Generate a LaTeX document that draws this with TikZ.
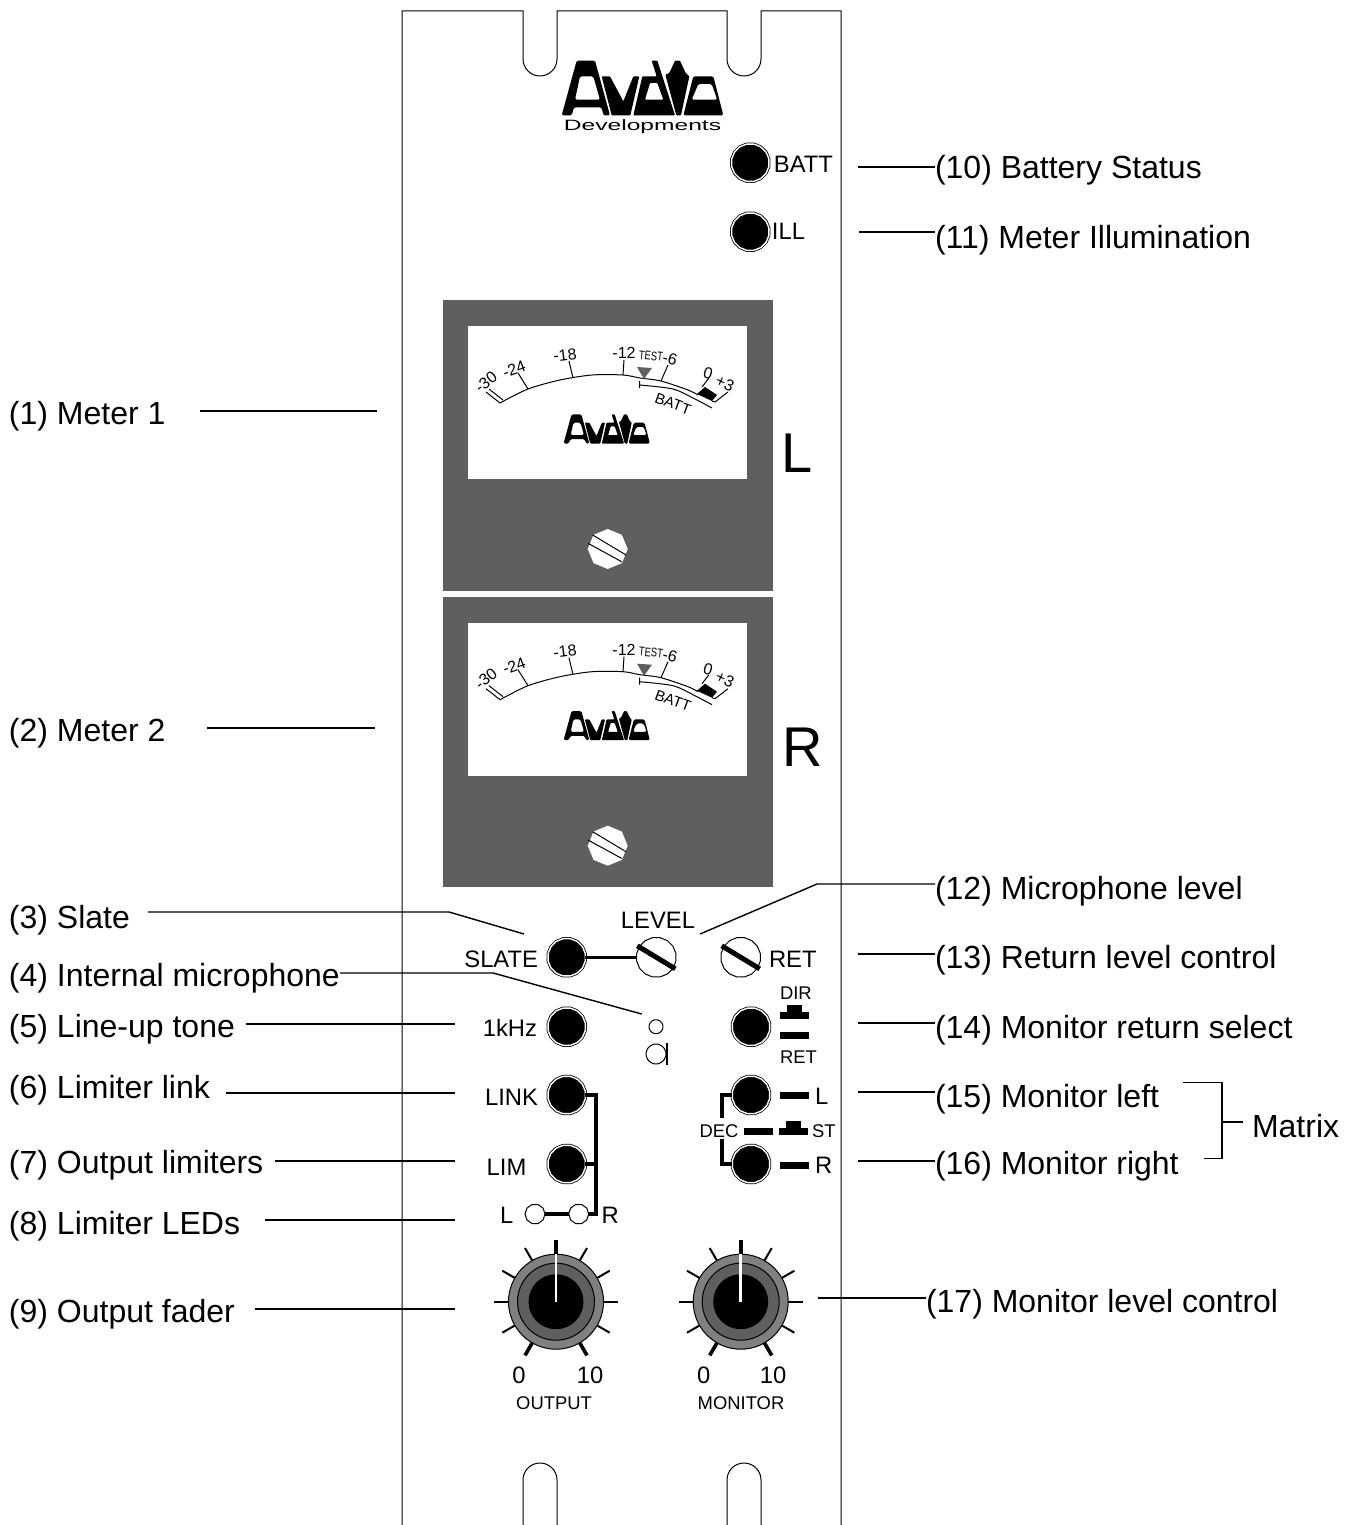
\documentclass[tikz,border=0pt]{standalone}
\usepackage{fontspec}
\setmainfont{Liberation Sans}
\usetikzlibrary{positioning,shapes.geometric}
\definecolor{paneldark}{HTML}{5F5F5F}
\definecolor{knobgrey}{HTML}{808080}
\tikzset{
  logo/.pic={
    \fill[even odd rule, rounded corners=1.5pt] (20,181) -- (65,17) -- (120,17) -- (165,181) -- (145,181) -- (140,157) -- (57,157) -- (50,181) -- cycle
      (75,64) -- (115,64) -- (135,134) -- (60,134) -- cycle;
    \fill[rounded corners=.8pt] (140,64) -- (165,64) -- (205,139) -- (235,64) -- (253,64) -- (226,181) -- (170,181) -- cycle;
    \fill[even odd rule, rounded corners=.8pt] (235,181) -- (262,64) -- (305,64) -- (290,17) -- (307,17) -- (360,181) -- cycle
      (285,84) -- (307,84) -- (325,134) -- (270,134) -- cycle;
    \fill[rounded corners=.8pt] (364,181) -- (378,181) -- (403,64) -- (392,54) -- (375,17) -- (360,17) -- (343,54) -- (331,59) -- cycle;
    \fill[even odd rule, rounded corners=1.5pt] (415,64) -- (475,64) -- (505,181) -- (385,181) -- cycle
      (430,87) -- (470,87) -- (487,134) -- (410,134) -- cycle;
  },
  meter/.pic={
    \fill[paneldark] (443,300) rectangle (773,590.7);
    \fill[white] (468,326) rectangle (747,479);
    \draw[scaleline] plot[smooth] coordinates {(500,403) (528,389) (560,380) (592,375) (623,375) (640,378) (661,381) (688,390) (698,395)};
    \draw[scaleline] (500,403) -- (486,392) (503,400) -- (489,389);
    \draw[scaleline] (528,389) -- (518,373) (573,378) -- (569,361) (623,375) -- (624,360);
    \draw[scaleline] (661,381) -- (668,365) (702,387) -- (709,378);
    \draw[scaleline] (639.7,381) -- (639.7,388) plot[smooth] coordinates {(639.7,385) (673,389) (693,398) (712,408)};
    \draw[scaleline] (715,402) -- (728,392) (712,401) -- (715,402);
    \fill (697,394) -- (705,387) -- (717,395) -- (712,401) -- cycle;
    \fill[paneldark] (637,367) -- (652,368) -- (644,379) -- cycle;
    \node[scaletext, rotate=38] (-a) at (486,382) {-30};
    \node[scaletext, rotate=20] (-b) at (514,369) {-24};
    \node[scaletext, rotate=7] (-c) at (565,355) {-18};
    \node[scaletext] (-d) at (624,353) {-12};
    \node[scaletext, font=\fontsize{12.5}{15}\selectfont, rotate=-5] (-e) at (651,356) {\scalebox{.75}[1]{TEST}};
    \node[scaletext, rotate=-15] (-f) at (670,359) {-6};
    \node[scaletext, rotate=-15] (-g) at (708,373) {0};
    \node[scaletext, rotate=-25] (-h) at (725,383) {+3};
    \node[scaletext, font=\fontsize{15}{18}\selectfont, rotate=-20] (-i) at (673,404) {BATT};
    \pic[scale=.178] at (560,411.3) {logo};
    \node[screw] (-s) at (607.7,549) {};
    \draw[scaleline] (592.7,535) -- (626,555) (588,543.3) -- (621.7,561.7);
  }
}
\begin{document}
\begin{tikzpicture}[x=1pt, y=-1pt,
    every node/.style={inner sep=0pt, outer sep=0pt},
    lab/.style={font=\fontsize{32}{38}\selectfont, text height=23pt, text depth=0pt},
    ctl/.style={font=\fontsize{23.8}{28}\selectfont},
    small/.style={font=\fontsize{18.4}{22}\selectfont},
    big/.style={font=\fontsize{56}{64}\selectfont},
    scaletext/.style={font=\fontsize{16}{19}\selectfont},
    scaleline/.style={line width=1pt},
    leader/.style={draw, line width=1.4pt},
    panel/.style={line width=1pt},
    bus/.style={line width=3.4pt},
    screw/.style={regular polygon, regular polygon sides=8, shape border rotate=22.5, fill=white, minimum size=40pt},
    button/.style={regular polygon, regular polygon sides=16, draw=black, double=white, double distance=1.4pt, line width=.8pt, fill=black, minimum size=38pt},
    pot/.style={regular polygon, regular polygon sides=16, draw=black, line width=1pt, fill=white, minimum size=40pt},
    potslot/.style={line width=5pt},
    led/.style={regular polygon, regular polygon sides=10, draw=black, line width=1pt, fill=white, minimum size=#1},
    swbar/.style={rectangle, fill=black, minimum width=29pt, minimum height=7pt},
    swbump/.style={rectangle, fill=black, minimum width=15pt, minimum height=7pt},
    knobout/.style={circle, draw=black, line width=1pt, fill=knobgrey, minimum size=95pt},
    knobmid/.style={circle, draw=black, line width=1pt, fill=paneldark, minimum size=77pt},
    knobtop/.style={circle, fill=black, minimum size=55pt},
    needle/.style={white, line width=2.6pt}
    ]
\useasboundingbox (0,0) rectangle (1357,1525);
\draw[panel] (402,1525) -- (402,11) -- (523,11) -- (523,59) arc[start angle=180, end angle=0, radius=17] -- (557,11)
  -- (727,11) -- (727,59) arc[start angle=180, end angle=0, radius=17] -- (761,11) -- (841,11) -- (841,1525);
\draw[panel] (523,1525) -- (523,1480) arc[start angle=180, end angle=360, radius=17] -- (557,1525);
\draw[panel] (727,1525) -- (727,1480) arc[start angle=180, end angle=360, radius=17] -- (761,1525);

\pic (toplogo) [scale=1/3] at (555,55) {logo};
\node (devs) at (642.5,127) {\fontsize{15}{18}\selectfont\scalebox{1.64}[1]{Developments}};
\pic (mtra) at (0,0) {meter};
\pic (mtrb) at (0,296.7) {meter};
\node[big, anchor=west] (bigl) at (781,453) {L};
\node[big, anchor=west] (bigr) at (782,747) {R};

\node[button] (batt) at (750.3,162.7) {};
\node[button] (ill) [below of=batt, node distance=69pt] {};
\node[ctl, right=5pt of batt, yshift=-2pt] (battlab) {BATT};
\node[ctl, right=3pt of ill] (illlab) {ILL};

\node[button] (slate) at (566.7,957.3) {};
\node[button] (tone) [below of=slate, node distance=69.4pt] {};
\node[button] (link) [below of=tone, node distance=68.3pt] {};
\node[button] (lim) [below of=link, node distance=69pt] {};
\node[pot] (level) at (656.3,957.3) {};
\node[pot] (ret) at (740.7,957.3) {};
\node[button] (mon) at (751,1026.7) {};
\node[button] (btnl) [below of=mon, node distance=68.3pt] {};
\node[button] (btnr) [below of=btnl, node distance=69pt] {};
\node[led=20pt] (ledl) at (535,1214) {};
\node[led=20pt] (ledr) [right of=ledl, node distance=43.7pt] {};
\node[led=14pt, regular polygon sides=16] (mica) at (656,1026.7) {};
\node[led=20pt, regular polygon sides=16] (micb) at (656,1054) {};
\coordinate (bara) at (666.7,1043);
\coordinate (barb) at (666.7,1065);

\node[ctl, anchor=east] (slatelab) at (538,959) {SLATE};
\node[ctl] (levellab) at (658,920) {LEVEL};
\node[ctl, anchor=west] (retlab) at (769,959) {RET};
\node[ctl, anchor=east] (tonelab) at (537,1028) {1kHz};
\node[ctl, anchor=east] (linklab) at (538,1097) {LINK};
\node[ctl, anchor=west] (limlab) at (486.7,1167) {LIM};
\node[ctl, anchor=west] (ledllab) at (500,1215) {L};
\node[ctl, anchor=west] (ledrlab) at (601.7,1215) {R};
\node[small, anchor=west] (dirlab) at (780,993) {DIR};
\node[small, anchor=west] (rrtlab) at (780,1057) {RET};
\node[ctl, anchor=west] (btnllab) at (815,1096) {L};
\node[ctl, anchor=west] (btnrlab) at (815,1165) {R};
\node[small] (declab) at (719,1131) {DEC};
\node[small, anchor=west] (stlab) at (812,1131) {ST};

\node[swbar] (dirbar) at (794.5,1015) {};
\node[swbump, above=0pt of dirbar] (dirbump) {};
\node[swbar] (retbar) at (794.5,1035.5) {};
\node[swbar] (lbar) at (794.5,1095.5) {};
\node[swbar] (decbar) at (758.5,1131.5) {};
\node[swbar] (stbar) at (793,1131.5) {};
\node[swbump, above=0pt of stbar] (stbump) {};
\node[swbar] (rbar) at (794.5,1165) {};

\node[knobout] (outknob) at (556,1301.7) {};
\node[knobmid] at (outknob) (outmid) {};
\node[knobtop] at (outknob) (outtop) {};
\node[knobout] (monknob) at (740.7,1301.7) {};
\node[knobmid] at (monknob) (monmid) {};
\node[knobtop] at (monknob) (montop) {};
\foreach \kn in {outknob,monknob}{
  \foreach \a/\w in {270/3.6pt,60/3.6pt,120/3.6pt,0/2pt,30/2pt,150/2pt,180/2pt,210/2pt,240/2pt,300/2pt,330/2pt}
    \draw[line width=\w] (\kn) ++(\a:47.5) -- ++(\a:14.5);
  \draw[needle] (\kn.center) -- (\kn.north);
}
\node[ctl] (out0) at (519,1375.7) {0};
\node[ctl] (out10) at (590,1375.7) {10};
\node[small] (outlab) at (554,1403) {OUTPUT};
\node[ctl] (mon0) at (703.7,1375.7) {0};
\node[ctl] (mon10) at (773,1375.7) {10};
\node[small] (monlab) at (741,1403) {MONITOR};

\draw[bus] (slate) -- (level);
\draw[potslot] ([shift={(-19,-11.5)}]level.center) -- ([shift={(19,11.5)}]level.center);
\draw[potslot] ([shift={(-19,-11.5)}]ret.center) -- ([shift={(19,11.5)}]ret.center);
\draw[line width=2.4pt] (bara) -- (barb);
\coordinate (bustop) at (596,1095);
\coordinate (busbot) at (596,1214);
\coordinate (decup) at (722,1118);
\coordinate (decdn) at (722,1139);
\draw[bus] (link) -- (bustop) -- (busbot) -- (ledr);
\draw[bus] (lim) -- (lim -| bustop);
\draw[bus] (ledl) -- (ledr);
\draw[bus] (btnl) -| (decup);
\draw[bus] (btnr) -| (decdn);

\node[lab, anchor=west] (l1) at (9,413) {(1) Meter 1};
\node[lab, anchor=west] (l2) at (9,730) {(2) Meter 2};
\node[lab, anchor=west] (l3) at (9,917) {(3) Slate};
\node[lab, anchor=west] (l4) at (9,975) {(4) Internal microphone};
\node[lab, anchor=west] (l5) at (9,1026) {(5) Line-up tone};
\node[lab, anchor=west] (l6) at (9,1087) {(6) Limiter link};
\node[lab, anchor=west] (l7) at (9,1162) {(7) Output limiters};
\node[lab, anchor=west] (l8) at (9,1223) {(8) Limiter LEDs};
\node[lab, anchor=west] (l9) at (9,1311) {(9) Output fader};
\node[lab, anchor=west] (l10) at (935,167) {(10) Battery Status};
\node[lab, anchor=west] (l11) at (935,237) {(11) Meter Illumination};
\node[lab, anchor=west] (l12) at (935,888) {(12) Microphone level};
\node[lab, anchor=west] (l13) at (935,957) {(13) Return level control};
\node[lab, anchor=west] (l14) at (935,1027) {(14) Monitor return select};
\node[lab, anchor=west] (l15) at (935,1096) {(15) Monitor left};
\node[lab, anchor=west] (l16) at (935,1163) {(16) Monitor right};
\node[lab, anchor=west] (l17) at (926,1301) {(17) Monitor level control};
\node[lab, anchor=west] (matrix) at (1252,1126) {Matrix};

\coordinate (e1) at (377,411);
\coordinate (e2) at (375,728);
\coordinate (e5) at (455,1024);
\coordinate (e6) at (455,1093);
\coordinate (e7) at (455,1161);
\coordinate (e8) at (455,1220);
\coordinate (e9) at (455,1309);
\coordinate (s10) at (858,167);
\coordinate (s11) at (859,232);
\coordinate (s13) at (858,954);
\coordinate (s14) at (858,1023);
\coordinate (s15) at (858,1092);
\coordinate (s16) at (858,1161);
\coordinate (s17) at (818,1298);
\path
(l1.east |- e1) edge [leader, shorten <=35pt] (e1)
(l2.east |- e2) edge [leader, shorten <=42pt] (e2)
(l5.east |- e5) edge [leader, shorten <=11pt] (e5)
(l6.east |- e6) edge [leader, shorten <=16pt] (e6)
(l7.east |- e7) edge [leader, shorten <=12pt] (e7)
(l8.east |- e8) edge [leader, shorten <=25pt] (e8)
(l9.east |- e9) edge [leader, shorten <=20pt] (e9)
(s10) edge [leader] (l10.west |- s10)
(s11) edge [leader] (l11.west |- s11)
(s13) edge [leader] (l13.west |- s13)
(s14) edge [leader] (l14.west |- s14)
(s15) edge [leader] (l15.west |- s15)
(s16) edge [leader] (l16.west |- s16)
(s17) edge [leader] (l17.west |- s17)
;
\coordinate (k3) at (449,912);
\coordinate (e3) at (524,934);
\coordinate (k4) at (493,973);
\coordinate (e4) at (641.7,1014);
\coordinate (s12) at (700,934);
\coordinate (k12) at (817,884);
\draw[leader, shorten <=18pt] (l3.east |- k3) -- (k3) -- (e3);
\draw[leader] (l4.east |- k4) -- (k4) -- (e4);
\draw[leader] (s12) -- (k12) -- (l12.west |- k12);
\coordinate (mt) at (1183,1082.7);
\coordinate (mb) at (1204,1158.7);
\coordinate (mc) at (1222,1122);
\draw[leader] (mt) -- (mc |- mt) -- (mc |- mb) -- (mb);
\draw[leader, shorten >=9pt] (mc) -- (matrix.west |- mc);
\end{tikzpicture}
\end{document}
